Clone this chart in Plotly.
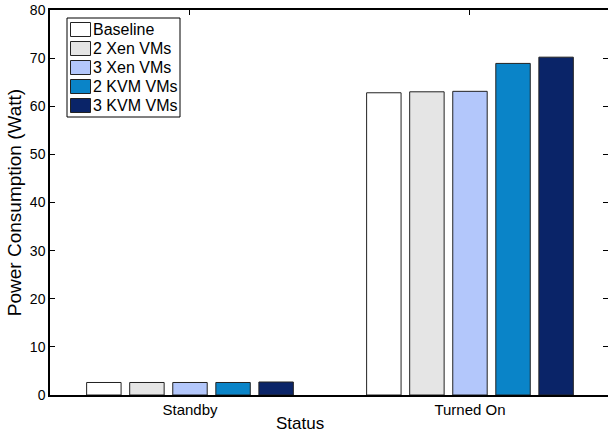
import plotly.graph_objects as go

categories = ["Standby", "Turned On"]
series_names = ["Baseline", "2 Xen VMs", "3 Xen VMs", "2 KVM VMs", "3 KVM VMs"]
series_values = [
    [2.6, 62.8],
    [2.6, 63.0],
    [2.6, 63.1],
    [2.6, 68.9],
    [2.7, 70.2],
]
colors = ["#ffffff", "#e5e5e5", "#b3c7fb", "#0a84c8", "#0a2468"]
y_ticks = [0, 10, 20, 30, 40, 50, 60, 70, 80]

xpos = list(range(1, len(categories) + 1))

W, H = 608, 436
ML, MR, MT, MB = 50, 0, 10, 41
PW, PH = W - ML - MR, H - MT - MB


def px(x):
    return (x - ML) / PW


def py(y):
    return (H - MB - y) / PH


fig = go.Figure()
for name, vals, col in zip(series_names, series_values, colors):
    fig.add_trace(go.Bar(
        x=xpos, y=vals, name=name, showlegend=False,
        marker=dict(color=col, line=dict(color="#222222", width=1)),
    ))
# carrier for the right-hand tick axis
fig.add_trace(go.Scatter(x=[1], y=[0], yaxis="y2", mode="markers",
                         marker=dict(opacity=0), showlegend=False, hoverinfo="skip"))

font = "Liberation Sans, Arial, Helvetica, sans-serif"

# hand-drawn legend (MATLAB style)
shapes = [dict(type="rect", xref="paper", yref="paper",
               x0=px(67), x1=px(180), y0=py(18), y1=py(117),
               line=dict(color="black", width=1), fillcolor="white", layer="above")]
annotations = []
for i, (name, col) in enumerate(zip(series_names, colors)):
    top = 22.5 + 19 * i
    shapes.append(dict(type="rect", xref="paper", yref="paper",
                       x0=px(70.5), x1=px(90.5), y0=py(top), y1=py(top + 14),
                       line=dict(color="#222222", width=1), fillcolor=col, layer="above"))
    annotations.append(dict(xref="paper", yref="paper", x=px(91), y=py(top + 7),
                            text=name, showarrow=False, xanchor="left", yanchor="middle",
                            font=dict(size=16, family=font, color="black")))
annotations.append(dict(xref="paper", yref="paper", x=px(300), y=py(423),
                        text="Status", showarrow=False, xanchor="center", yanchor="middle",
                        font=dict(size=17, family=font, color="black")))

fig.update_layout(
    width=W, height=H,
    margin=dict(l=ML, r=MR, t=MT, b=MB),
    paper_bgcolor="white", plot_bgcolor="white",
    barmode="group", bargap=0.231, bargroupgap=0.2,
    font=dict(family=font, color="black", size=14),
    showlegend=False,
    shapes=shapes, annotations=annotations,
    xaxis=dict(
        range=[0.5, 2.493], tickvals=xpos, ticktext=categories,
        ticks="inside", ticklen=5, tickcolor="black",
        showline=True, linecolor="black", linewidth=1.5, mirror="ticks",
        showgrid=False, zeroline=False, layer="below traces",
        tickfont=dict(size=15),
    ),
    yaxis=dict(
        range=[0, 80], tickvals=y_ticks,
        ticks="inside", ticklen=5, tickcolor="black",
        showline=True, linecolor="black", linewidth=1.5,
        showgrid=False, zeroline=False,
        tickfont=dict(size=14),
        title=dict(text="Power Consumption (Watt)", font=dict(size=19), standoff=3),
    ),
    yaxis2=dict(
        overlaying="y", side="right", range=[0, 80], tickvals=y_ticks,
        ticks="inside", ticklen=5, tickcolor="black",
        showticklabels=False, showline=False, showgrid=False, zeroline=False,
    ),
)

fig.write_html("out.html")
